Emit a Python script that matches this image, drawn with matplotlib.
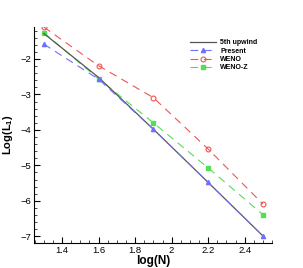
import matplotlib.pyplot as plt
from matplotlib.ticker import MultipleLocator

plt.rcParams['font.family'] = ['Liberation Sans', 'DejaVu Sans']
plt.rcParams['mathtext.fontset'] = 'custom'
plt.rcParams['mathtext.bf'] = 'Liberation Sans:bold'
plt.rcParams['mathtext.rm'] = 'Liberation Sans'

logN = [1.3, 1.6, 1.9, 2.2, 2.5]
upwind5 = [-1.28, -2.52, -3.98, -5.48, -6.99]
present = [-1.58, -2.57, -3.98, -5.48, -6.99]
weno = [-1.10, -2.19, -3.09, -4.54, -6.09]
wenoz = [-1.26, -2.56, -3.80, -5.07, -6.39]

fig = plt.figure(figsize=(3.03, 2.68), dpi=100)
ax = fig.add_axes([0.112, 0.093, 0.786, 0.806])

dash = (0, (7, 5))
ax.plot(logN, upwind5, color='#555555', lw=0.9, label='5th upwind', zorder=3)
ax.plot(logN, present, color='#6f6fff', lw=0.8, ls=dash, marker='^',
        ms=3, label='Present', zorder=4)
ax.plot(logN, weno, color='#ee5555', lw=0.8, ls=dash, marker='o',
        ms=3.5, mfc='none', mew=0.8, label='WENO', zorder=2)
ax.plot(logN, wenoz, color='#55dd55', lw=0.8, ls=dash, marker='s',
        ms=3, label='WENO-Z', zorder=2)

ax.set_xlim(1.246, 2.55)
ax.set_ylim(-7.19, -1.1)
ax.xaxis.set_major_locator(MultipleLocator(0.2))
ax.xaxis.set_minor_locator(MultipleLocator(0.05))
ax.yaxis.set_major_locator(MultipleLocator(1))
ax.yaxis.set_minor_locator(MultipleLocator(0.2))
ax.xaxis.set_major_formatter(plt.FuncFormatter(lambda v, p: f'{v:g}'))
ax.tick_params(which='both', direction='in', labelsize=6.8, pad=2)
ax.tick_params(which='major', length=4, width=0.8)
ax.tick_params(which='minor', length=2, width=0.5)
ax.spines['top'].set_visible(False)
ax.spines['right'].set_visible(False)

ax.set_xlabel('log(N)', fontsize=8.5, fontweight='bold', labelpad=0)
ax.set_ylabel('Log(L$_\\mathbf{1}$)', fontsize=8, fontweight='bold')
ax.yaxis.set_label_coords(-0.08, 0.5)

ax.legend(loc='upper left', bbox_to_anchor=(0.64, 0.96), frameon=False,
          handlelength=3.8, labelspacing=0.2, handletextpad=0.6,
          borderpad=0, prop={'weight': 'bold', 'size': 5})

fig.savefig('out.png', dpi=100)
